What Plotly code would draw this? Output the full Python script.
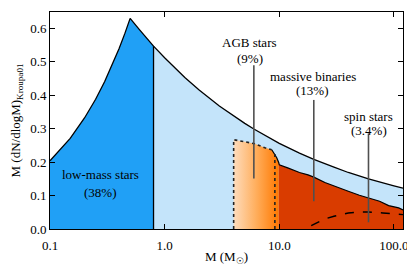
import plotly.graph_objects as go
import math

# ---- data ----
imf_mass = [0.1, 0.15, 0.2, 0.25, 0.3, 0.35, 0.4, 0.45, 0.5, 0.6, 0.7, 0.8,
            1.0, 1.5, 2, 3, 4, 5, 6, 8, 10, 15, 20, 30, 40, 60, 80, 100, 120]
imf_value = [0.204, 0.271, 0.332, 0.388, 0.441, 0.491, 0.539, 0.585, 0.630,
             0.597, 0.570, 0.547, 0.512, 0.453, 0.416, 0.368, 0.338, 0.316,
             0.299, 0.274, 0.256, 0.227, 0.208, 0.185, 0.169, 0.150, 0.137,
             0.129, 0.122]
low_mass_limit = 0.8

agb_mass = [4.0, 5.0, 6.1, 7.5, 8.6]
agb_top = [0.267, 0.261, 0.255, 0.243, 0.237]
agb_right_edge = 9.15
agb_right_top = 0.228

binary_mass = [8.6, 9.5, 9.9, 10, 12, 15, 17.8, 20, 25, 30, 40, 50, 60, 75,
               90, 100, 110, 120]
binary_top = [0.237, 0.213, 0.198, 0.192, 0.182, 0.169, 0.162, 0.155, 0.139,
              0.128, 0.113, 0.101, 0.092, 0.083, 0.070, 0.066, 0.063, 0.057]
binary_start = 9.9

spin_mass = [19, 22, 25, 30, 40, 50, 60, 80, 100, 120]
spin_value = [0.010, 0.021, 0.030, 0.038, 0.048, 0.051, 0.051, 0.048, 0.045, 0.043]

labels = ["low-mass stars", "AGB stars", "massive binaries", "spin stars"]
fractions = ["(38%)", "(9%)", "(13%)", "(3.4%)"]
label_mass = [0.273, 5.54, 19.6, 60.4]
label_y = [0.162, 0.559, 0.455, 0.335]
frac_y = [0.109, 0.511, 0.413, 0.294]
pointer_mass = [6.0, 20, 60]
pointer_top = [0.490, 0.386, 0.286]
pointer_bottom = [0.151, 0.083, 0.020]

x_ticks = [0.1, 1, 10, 100]
x_ticktext = ["0.1", "1.0", "10.0", "100.0"]
y_ticks = [0.0, 0.1, 0.2, 0.3, 0.4, 0.5, 0.6]
y_ticktext = ["0.0", "0.1", "0.2", "0.3", "0.4", "0.5", "0.6"]

FONT = "Liberation Serif, Times New Roman, serif"
DARK_BLUE = "#20a0f6"
LIGHT_BLUE = "#c4e4fa"
RED = "#d93c00"

fig = go.Figure()

# light blue region (M > 0.8)
hx = [m for m in imf_mass if m >= low_mass_limit]
hy = [v for m, v in zip(imf_mass, imf_value) if m >= low_mass_limit]
fig.add_trace(go.Scatter(x=hx, y=hy, mode="lines", fill="tozeroy",
                         fillcolor=LIGHT_BLUE, line=dict(color="black", width=1.3),
                         hoverinfo="skip"))
# dark blue region (M < 0.8)
lx = [m for m in imf_mass if m <= low_mass_limit]
ly = [v for m, v in zip(imf_mass, imf_value) if m <= low_mass_limit]
fig.add_trace(go.Scatter(x=lx, y=ly, mode="lines", fill="tozeroy",
                         fillcolor=DARK_BLUE, line=dict(color="black", width=1.3),
                         hoverinfo="skip"))
# vertical divider at 0.8
fig.add_trace(go.Scatter(x=[low_mass_limit, low_mass_limit], y=[0, ly[-1]],
                         mode="lines", line=dict(color="black", width=1.3),
                         hoverinfo="skip"))

# AGB gradient region
bx_pre = [m for m in binary_mass if agb_mass[-1] < m <= binary_start]
by_pre = [v for m, v in zip(binary_mass, binary_top) if agb_mass[-1] < m <= binary_start]
ax = [agb_mass[0]] + agb_mass + bx_pre + [bx_pre[-1], agb_mass[0]]
ay = [0] + agb_top + by_pre + [0, 0]
fig.add_trace(go.Scatter(x=ax, y=ay, mode="lines", fill="toself",
                         fillgradient=dict(type="horizontal",
                                           colorscale=[[0, "#fedcbc"], [0.5, "#ffae5c"], [1, "#ff7800"]]),
                         line=dict(width=0), hoverinfo="skip"))

# massive binaries region
rx = [m for m in binary_mass if m >= binary_start]
ry = [v for m, v in zip(binary_mass, binary_top) if m >= binary_start]
fig.add_trace(go.Scatter(x=rx, y=ry, mode="lines", fill="tozeroy",
                         fillcolor=RED, line=dict(width=0), hoverinfo="skip"))
fig.add_trace(go.Scatter(x=binary_mass, y=binary_top, mode="lines",
                         line=dict(color="black", width=1.2), hoverinfo="skip"))

# AGB dotted outline
fig.add_trace(go.Scatter(x=[agb_mass[0]] + agb_mass, y=[0] + agb_top, mode="lines",
                         line=dict(color="#222222", width=1.6, dash="dot"),
                         hoverinfo="skip"))
fig.add_trace(go.Scatter(x=[agb_right_edge, agb_right_edge], y=[0, agb_right_top],
                         mode="lines", line=dict(color="#222222", width=1.6, dash="dot"),
                         hoverinfo="skip"))

# spin stars dashed
fig.add_trace(go.Scatter(x=spin_mass, y=spin_value, mode="lines",
                         line=dict(color="black", width=1.4, dash="dash"),
                         hoverinfo="skip"))

# pointer lines
for m, t, b in zip(pointer_mass, pointer_top, pointer_bottom):
    fig.add_trace(go.Scatter(x=[m, m], y=[b, t], mode="lines",
                             line=dict(color="#505050", width=1.6), hoverinfo="skip"))

for name, frac, m, y1, y2 in zip(labels, fractions, label_mass, label_y, frac_y):
    fig.add_annotation(x=math.log10(m), y=y1, text=name, showarrow=False,
                       xanchor="center", yanchor="middle",
                       font=dict(family=FONT, size=13, color="black"))
    fig.add_annotation(x=math.log10(m), y=y2, text=frac, showarrow=False,
                       xanchor="center", yanchor="middle",
                       font=dict(family=FONT, size=13, color="black"))

# page body has an 8px margin, so the figure is sized/offset to compensate
fig.update_layout(
    width=407, height=272,
    margin=dict(l=42, r=12, t=4, b=51, autoexpand=False),
    paper_bgcolor="white", plot_bgcolor="white",
    showlegend=False,
    font=dict(family=FONT, size=13, color="black"),
)
fig.update_xaxes(type="log", range=[-1, math.log10(120)],
                 tickvals=x_ticks, ticktext=x_ticktext,
                 ticks="inside", ticklen=5, tickwidth=1, tickcolor="black",
                 ticklabelstandoff=4,
                 showline=True, linecolor="black", linewidth=1, mirror="allticks",
                 showgrid=False, zeroline=False, automargin=False,
                 title=dict(text="M (M<sub>☉</sub>)", standoff=0,
                            font=dict(family=FONT, size=13)))
fig.update_yaxes(range=[0, 0.649],
                 tickvals=y_ticks, ticktext=y_ticktext,
                 ticks="inside", ticklen=5, tickwidth=1, tickcolor="black",
                 showline=True, linecolor="black", linewidth=1, mirror="allticks",
                 showgrid=False, zeroline=False, automargin=False,
                 title=dict(text="M (dN/dlogM)<sub>Kroupa01</sub>", standoff=6,
                            font=dict(family=FONT, size=13)))

fig.write_html("out.html")
